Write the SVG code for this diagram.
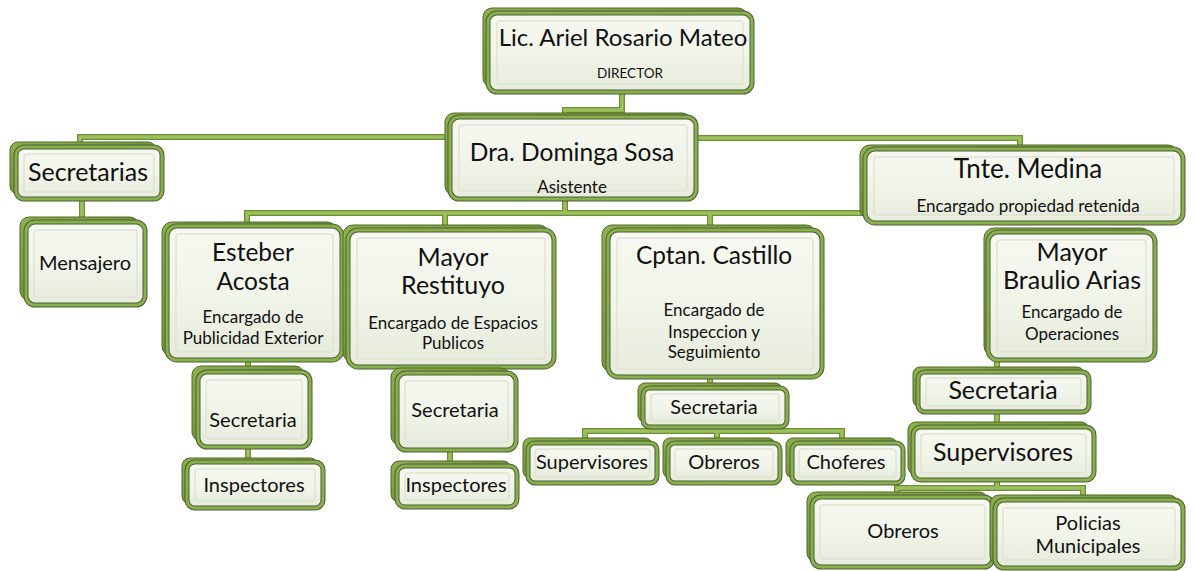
<svg xmlns="http://www.w3.org/2000/svg" width="1195" height="571" viewBox="0 0 1195 571">
<defs>
<linearGradient id="gf" x1="0" y1="0" x2="0" y2="1">
<stop offset="0" stop-color="#f7f9f2"/>
<stop offset="0.5" stop-color="#f1f4e9"/>
<stop offset="1" stop-color="#e6ebdb"/>
</linearGradient>
<linearGradient id="gb" x1="0" y1="0" x2="1" y2="1">
<stop offset="0" stop-color="#8fb050"/>
<stop offset="1" stop-color="#5d7d2a"/>
</linearGradient>
<style>
.bk{fill:url(#gb);stroke:#4e6a22;stroke-width:1}
.fo{fill:url(#gf);stroke:#4f5d3b;stroke-width:5}
.fr{fill:none;stroke:#86b04a;stroke-width:3}
.in{fill:none;stroke:#dfe4d3;stroke-width:1.5}
.c1{fill:none;stroke:#6d8f35;stroke-width:6}
.c2{fill:none;stroke:#9cc05c;stroke-width:3.5}
text{font-family:"Lato","Liberation Sans",sans-serif;fill:#111;text-anchor:middle}
.n{font-size:24.5px}
.s{font-size:17px}
.m{font-size:20px}
.l{font-size:25px}
</style>
</defs>
<g id="connectors">
<g class="c1">
<path d="M622,92 V110 H565 V117"/>
<path d="M450,137 H80 V147"/>
<path d="M696,138 H1020 V149"/>
<path d="M565,199 V213"/>
<path d="M247,226 V213 H865"/>
<path d="M445,213 V230"/>
<path d="M710,213 V230"/>
<path d="M82,199 V222"/>
<path d="M248,360 V372"/>
<path d="M248,447 V462"/>
<path d="M450,367 V373"/>
<path d="M450,450 V466"/>
<path d="M710,377 V388"/>
<path d="M712,427 V431"/>
<path d="M585,443 V431 H842 V443"/>
<path d="M717,431 V443"/>
<path d="M997,360 V372"/>
<path d="M997,412 V427"/>
<path d="M997,480 V488"/>
<path d="M897,497 V488 H1083 V500"/>
</g>
<g class="c2">
<path d="M622,92 V110 H565 V117"/>
<path d="M450,137 H80 V147"/>
<path d="M696,138 H1020 V149"/>
<path d="M565,199 V213"/>
<path d="M247,226 V213 H865"/>
<path d="M445,213 V230"/>
<path d="M710,213 V230"/>
<path d="M82,199 V222"/>
<path d="M248,360 V372"/>
<path d="M248,447 V462"/>
<path d="M450,367 V373"/>
<path d="M450,450 V466"/>
<path d="M710,377 V388"/>
<path d="M712,427 V431"/>
<path d="M585,443 V431 H842 V443"/>
<path d="M717,431 V443"/>
<path d="M997,360 V372"/>
<path d="M997,412 V427"/>
<path d="M997,480 V488"/>
<path d="M897,497 V488 H1083 V500"/>
</g>
</g>
<g id="director">
<rect class="bk" x="483" y="8" width="264" height="79" rx="9"/>
<rect class="fo" x="488" y="13" width="264" height="79" rx="9"/>
<rect class="fr" x="488" y="13" width="264" height="79" rx="9"/>
<rect class="in" x="497" y="21" width="246" height="63" rx="3"/>
<text x="623" y="46" style="font-size:24px">Lic. Ariel Rosario Mateo</text>
<text x="630" y="78" style="font-size:13.5px">DIRECTOR</text>
</g>
<g id="dominga">
<rect class="bk" x="445" y="113" width="246" height="82" rx="9"/>
<rect class="fo" x="450" y="117" width="246" height="82" rx="9"/>
<rect class="fr" x="450" y="117" width="246" height="82" rx="9"/>
<rect class="in" x="459" y="125" width="228" height="66" rx="3"/>
<text class="n" x="572" y="161">Dra. Dominga Sosa</text>
<text class="s" x="572" y="193">Asistente</text>
</g>
<g id="secretarias">
<rect class="bk" x="10" y="142" width="146" height="52" rx="8"/>
<rect class="fo" x="16" y="147" width="146" height="52" rx="8"/>
<rect class="fr" x="16" y="147" width="146" height="52" rx="8"/>
<rect class="in" x="24" y="154" width="130" height="38" rx="3"/>
<text class="l" x="88" y="181">Secretarias</text>
</g>
<g id="mensajero">
<rect class="bk" x="20" y="217" width="119" height="83" rx="9"/>
<rect class="fo" x="26" y="222" width="119" height="83" rx="9"/>
<rect class="fr" x="26" y="222" width="119" height="83" rx="9"/>
<rect class="in" x="34" y="230" width="103" height="67" rx="3"/>
<text class="m" x="85" y="270">Mensajero</text>
</g>
<g id="esteber">
<rect class="bk" x="162" y="222" width="175" height="134" rx="10"/>
<rect class="fo" x="167" y="226" width="175" height="134" rx="10"/>
<rect class="fr" x="167" y="226" width="175" height="134" rx="10"/>
<rect class="in" x="176" y="234" width="157" height="118" rx="3"/>
<text class="n" x="253" y="261">Esteber</text>
<text class="n" x="253" y="290">Acosta</text>
<text class="s" x="253" y="323">Encargado de</text>
<text class="s" x="253" y="344">Publicidad Exterior</text>
</g>
<g id="restituyo">
<rect class="bk" x="343" y="225" width="206" height="137" rx="10"/>
<rect class="fo" x="348" y="230" width="206" height="137" rx="10"/>
<rect class="fr" x="348" y="230" width="206" height="137" rx="10"/>
<rect class="in" x="357" y="238" width="188" height="121" rx="3"/>
<text class="l" x="453" y="266">Mayor</text>
<text class="l" x="453" y="294">Restituyo</text>
<text class="s" x="453" y="329">Encargado de Espacios</text>
<text class="s" x="453" y="349">Publicos</text>
</g>
<g id="castillo">
<rect class="bk" x="602" y="225" width="214" height="147" rx="10"/>
<rect class="fo" x="608" y="230" width="214" height="147" rx="10"/>
<rect class="fr" x="608" y="230" width="214" height="147" rx="10"/>
<rect class="in" x="617" y="238" width="196" height="131" rx="3"/>
<text class="n" x="714" y="264">Cptan. Castillo</text>
<text class="s" x="714" y="316">Encargado de</text>
<text class="s" x="714" y="338">Inspeccion y</text>
<text class="s" x="714" y="358">Seguimiento</text>
</g>
<g id="medina">
<rect class="bk" x="860" y="145" width="318" height="74" rx="10"/>
<rect class="fo" x="865" y="149" width="318" height="74" rx="10"/>
<rect class="fr" x="865" y="149" width="318" height="74" rx="10"/>
<rect class="in" x="874" y="157" width="300" height="58" rx="3"/>
<text x="1028" y="178" style="font-size:26px">Tnte. Medina</text>
<text class="s" x="1028" y="212">Encargado propiedad retenida</text>
</g>
<g id="braulio">
<rect class="bk" x="984" y="228" width="167" height="128" rx="10"/>
<rect class="fo" x="988" y="232" width="167" height="128" rx="10"/>
<rect class="fr" x="988" y="232" width="167" height="128" rx="10"/>
<rect class="in" x="997" y="240" width="149" height="112" rx="3"/>
<text class="l" x="1072" y="261">Mayor</text>
<text class="l" x="1072" y="289">Braulio Arias</text>
<text class="s" x="1072" y="318">Encargado de</text>
<text class="s" x="1072" y="340">Operaciones</text>
</g>
<g id="esteber-secretaria">
<rect class="bk" x="192" y="366" width="112" height="75" rx="9"/>
<rect class="fo" x="198" y="372" width="112" height="75" rx="9"/>
<rect class="fr" x="198" y="372" width="112" height="75" rx="9"/>
<rect class="in" x="206" y="380" width="96" height="59" rx="3"/>
<text class="m" x="253" y="427">Secretaria</text>
</g>
<g id="esteber-inspectores">
<rect class="bk" x="182" y="458" width="136" height="46" rx="8"/>
<rect class="fo" x="187" y="462" width="136" height="46" rx="8"/>
<rect class="fr" x="187" y="462" width="136" height="46" rx="8"/>
<rect class="in" x="195" y="469" width="120" height="32" rx="3"/>
<text class="m" x="254" y="492">Inspectores</text>
</g>
<g id="restituyo-secretaria">
<rect class="bk" x="391" y="368" width="119" height="77" rx="9"/>
<rect class="fo" x="397" y="373" width="119" height="77" rx="9"/>
<rect class="fr" x="397" y="373" width="119" height="77" rx="9"/>
<rect class="in" x="405" y="381" width="103" height="61" rx="3"/>
<text class="m" x="455" y="417">Secretaria</text>
</g>
<g id="restituyo-inspectores">
<rect class="bk" x="391" y="461" width="120" height="41" rx="8"/>
<rect class="fo" x="397" y="466" width="120" height="41" rx="8"/>
<rect class="fr" x="397" y="466" width="120" height="41" rx="8"/>
<rect class="in" x="405" y="473" width="104" height="27" rx="3"/>
<text class="m" x="456" y="492">Inspectores</text>
</g>
<g id="castillo-secretaria">
<rect class="bk" x="638" y="383" width="144" height="39" rx="7"/>
<rect class="fo" x="643" y="388" width="144" height="39" rx="7"/>
<rect class="fr" x="643" y="388" width="144" height="39" rx="7"/>
<rect class="in" x="651" y="394" width="128" height="27" rx="3"/>
<text class="m" x="714" y="414">Secretaria</text>
</g>
<g id="castillo-supervisores">
<rect class="bk" x="523" y="438" width="129" height="40" rx="7"/>
<rect class="fo" x="528" y="443" width="129" height="40" rx="7"/>
<rect class="fr" x="528" y="443" width="129" height="40" rx="7"/>
<rect class="in" x="535" y="449" width="115" height="28" rx="3"/>
<text class="m" x="592" y="469">Supervisores</text>
</g>
<g id="castillo-obreros">
<rect class="bk" x="663" y="438" width="112" height="40" rx="7"/>
<rect class="fo" x="668" y="443" width="112" height="40" rx="7"/>
<rect class="fr" x="668" y="443" width="112" height="40" rx="7"/>
<rect class="in" x="675" y="449" width="98" height="28" rx="3"/>
<text class="m" x="724" y="469">Obreros</text>
</g>
<g id="castillo-choferes">
<rect class="bk" x="786" y="438" width="111" height="40" rx="7"/>
<rect class="fo" x="792" y="443" width="111" height="40" rx="7"/>
<rect class="fr" x="792" y="443" width="111" height="40" rx="7"/>
<rect class="in" x="799" y="449" width="97" height="28" rx="3"/>
<text class="m" x="846" y="469">Choferes</text>
</g>
<g id="braulio-secretaria">
<rect class="bk" x="913" y="367" width="171" height="40" rx="7"/>
<rect class="fo" x="918" y="372" width="171" height="40" rx="7"/>
<rect class="fr" x="918" y="372" width="171" height="40" rx="7"/>
<rect class="in" x="926" y="378" width="155" height="28" rx="3"/>
<text class="l" x="1003" y="399">Secretaria</text>
</g>
<g id="braulio-supervisores">
<rect class="bk" x="908" y="422" width="181" height="53" rx="8"/>
<rect class="fo" x="913" y="427" width="181" height="53" rx="8"/>
<rect class="fr" x="913" y="427" width="181" height="53" rx="8"/>
<rect class="in" x="921" y="434" width="165" height="39" rx="3"/>
<text class="l" x="1003" y="461">Supervisores</text>
</g>
<g id="braulio-obreros">
<rect class="bk" x="807" y="492" width="181" height="70" rx="9"/>
<rect class="fo" x="812" y="497" width="181" height="70" rx="9"/>
<rect class="fr" x="812" y="497" width="181" height="70" rx="9"/>
<rect class="in" x="820" y="505" width="165" height="54" rx="3"/>
<text class="m" x="903" y="538">Obreros</text>
</g>
<g id="braulio-policias">
<rect class="bk" x="990" y="495" width="188" height="70" rx="9"/>
<rect class="fo" x="995" y="500" width="188" height="68" rx="9"/>
<rect class="fr" x="995" y="500" width="188" height="68" rx="9"/>
<rect class="in" x="1003" y="508" width="172" height="52" rx="3"/>
<text class="m" x="1088" y="530">Policias</text>
<text class="m" x="1088" y="553">Municipales</text>
</g>
</svg>
